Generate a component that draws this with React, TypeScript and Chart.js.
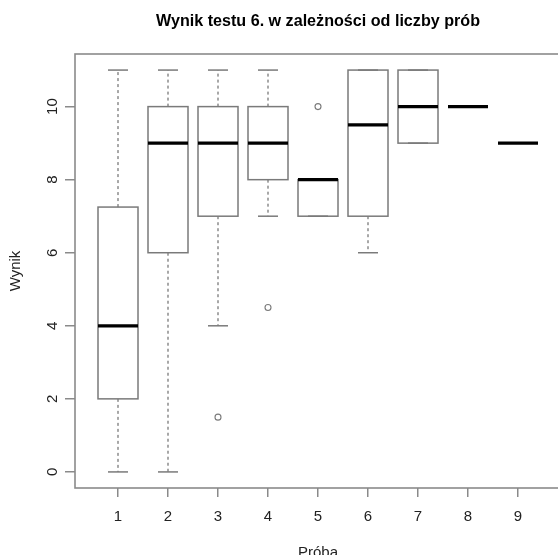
import React, { useEffect, useRef } from "react";
import { Chart, registerables } from "chart.js";

Chart.register(...registerables);

// Number of attempts (x) and the five-number summaries of the scores per attempt
const attempts = [1, 2, 3, 4, 5, 6, 7, 8, 9];
const whiskerLow = [0, 0, 4, 7, 7, 6, 9, 10, 9];
const quartile1 = [2, 6, 7, 8, 7, 7, 9, 10, 9];
const medians = [4, 9, 9, 9, 8, 9.5, 10, 10, 9];
const quartile3 = [7.25, 10, 10, 10, 8, 11, 11, 10, 9];
const whiskerHigh = [11, 11, 11, 11, 8, 11, 11, 10, 9];

// Points lying outside the whiskers
const outlierAttempt = [3, 4, 5];
const outlierScore = [1.5, 4.5, 10];

const TITLE = "Wynik testu 6. w zależności od liczby prób";
const X_TITLE = "Próba";
const Y_TITLE = "Wynik";

const SANS = "'Liberation Sans', Arial, Helvetica, sans-serif";
const FRAME = "#8a8a8a";
const BOX_LINE = "#7a7a7a";
const TEXT = "#222222";

const BOX_HALF = 0.4; // half of the box width, in x units
const CAP_HALF = 0.2; // half of the whisker cap width

const TITLE_WIDTH = 324; // condensed headline width in px
const TITLE_BASELINE = 26;

const boxPlotPlugin = {
  id: "boxPlot",
  beforeDatasetsDraw(chart: any) {
    const { ctx, chartArea, scales } = chart;
    const x = scales.x;
    const y = scales.y;
    const line = (x1: number, y1: number, x2: number, y2: number) => {
      ctx.beginPath();
      ctx.moveTo(x1, y1);
      ctx.lineTo(x2, y2);
      ctx.stroke();
    };
    ctx.save();
    ctx.beginPath();
    ctx.rect(chartArea.left, chartArea.top, chartArea.right - chartArea.left, chartArea.bottom - chartArea.top);
    ctx.clip();
    attempts.forEach((a, i) => {
      const cx = x.getPixelForValue(a);
      const left = x.getPixelForValue(a - BOX_HALF);
      const right = x.getPixelForValue(a + BOX_HALF);
      const capL = x.getPixelForValue(a - CAP_HALF);
      const capR = x.getPixelForValue(a + CAP_HALF);
      const yLow = y.getPixelForValue(whiskerLow[i]);
      const yQ1 = y.getPixelForValue(quartile1[i]);
      const yMed = y.getPixelForValue(medians[i]);
      const yQ3 = y.getPixelForValue(quartile3[i]);
      const yHigh = y.getPixelForValue(whiskerHigh[i]);

      // dashed whiskers
      ctx.strokeStyle = BOX_LINE;
      ctx.lineWidth = 1.3;
      ctx.setLineDash([3, 3]);
      if (yHigh < yQ3) line(cx, yQ3, cx, yHigh);
      if (yLow > yQ1) line(cx, yQ1, cx, yLow);
      ctx.setLineDash([]);

      // caps
      ctx.lineWidth = 1.5;
      line(capL, yHigh, capR, yHigh);
      line(capL, yLow, capR, yLow);

      // box
      ctx.strokeRect(left, yQ3, right - left, yQ1 - yQ3);

      // median
      ctx.strokeStyle = "#000000";
      ctx.lineWidth = 3.2;
      line(left, yMed, right, yMed);
    });
    ctx.restore();
  },
  afterDraw(chart: any) {
    const { ctx, chartArea } = chart;
    ctx.save();
    ctx.strokeStyle = FRAME;
    ctx.lineWidth = 1.6;
    ctx.strokeRect(chartArea.left, chartArea.top, chartArea.right - chartArea.left, chartArea.bottom - chartArea.top);

    // condensed bold headline centred over the plot region
    ctx.font = `bold 17px ${SANS}`;
    const w = ctx.measureText(TITLE).width;
    ctx.translate((chartArea.left + chartArea.right) / 2, TITLE_BASELINE);
    ctx.scale(TITLE_WIDTH / w, 1);
    ctx.textAlign = "center";
    ctx.textBaseline = "alphabetic";
    ctx.fillStyle = "#000000";
    ctx.fillText(TITLE, 0, 0);
    ctx.restore();
  },
};

export default function App() {
  const canvasRef = useRef<HTMLCanvasElement | null>(null);

  useEffect(() => {
    if (!canvasRef.current) return;
    const chart = new Chart(canvasRef.current, {
      type: "scatter",
      data: {
        datasets: [
          {
            label: "outliers",
            data: outlierAttempt.map((a, i) => ({ x: a, y: outlierScore[i] })),
            pointStyle: "circle",
            pointRadius: 3,
            pointBorderWidth: 1.1,
            pointBorderColor: BOX_LINE,
            pointBackgroundColor: "#ffffff",
          },
        ],
      },
      options: {
        responsive: false,
        animation: false,
        devicePixelRatio: 1,
        layout: { padding: { left: 0, right: 9, top: 54, bottom: 0 } },
        plugins: {
          legend: { display: false },
          tooltip: { enabled: false },
          title: { display: false },
        },
        scales: {
          x: {
            type: "linear",
            min: 0.14,
            max: 9.86,
            afterFit: (s: any) => {
              s.height = 74;
            },
            border: { display: false },
            grid: {
              display: true,
              drawOnChartArea: false,
              drawTicks: true,
              tickLength: 9,
              color: FRAME,
              lineWidth: 1.5,
            },
            ticks: {
              stepSize: 1,
              includeBounds: false,
              autoSkip: false,
              color: TEXT,
              padding: 11,
              font: { family: SANS, size: 15 },
            },
            title: {
              display: true,
              text: X_TITLE,
              color: TEXT,
              font: { family: SANS, size: 15 },
              padding: { top: 0, bottom: 0 },
            },
          },
          y: {
            type: "linear",
            min: -0.44,
            max: 11.44,
            afterFit: (s: any) => {
              s.width = 75;
            },
            border: { display: false },
            grid: {
              display: true,
              drawOnChartArea: false,
              drawTicks: true,
              tickLength: 10,
              color: FRAME,
              lineWidth: 1.5,
            },
            ticks: {
              stepSize: 2,
              includeBounds: false,
              autoSkip: false,
              minRotation: 90,
              maxRotation: 90,
              crossAlign: "center",
              color: TEXT,
              padding: 4,
              font: { family: SANS, size: 15 },
            },
            title: {
              display: true,
              text: Y_TITLE,
              color: TEXT,
              font: { family: SANS, size: 15 },
              padding: { top: 7, bottom: 0 },
            },
          },
        },
      },
      plugins: [boxPlotPlugin],
    });
    return () => chart.destroy();
  }, []);

  return (
    <div
      style={{
        position: "fixed",
        left: 0,
        top: 0,
        width: 558,
        height: 555,
        overflow: "hidden",
        background: "#ffffff",
      }}
    >
      <canvas ref={canvasRef} width={570} height={562} style={{ display: "block" }} />
    </div>
  );
}
